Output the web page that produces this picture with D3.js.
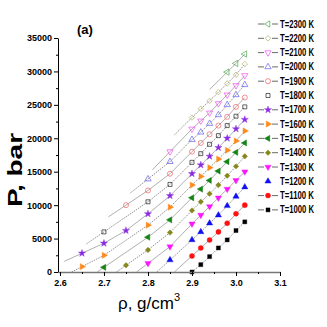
<!DOCTYPE html>
<html>
<head>
<meta charset="utf-8">
<script src="https://cdn.jsdelivr.net/npm/d3@7"></script>
<style>
  body { margin: 0; background: #fff; }
  svg { display: block; font-family: Arial, "Liberation Sans", sans-serif; }
</style>
</head>
<body>
<svg id="chart" width="327" height="327"></svg>
<script>
// Data (P in bar, rho in g/cm3)
var temps = [2300, 2200, 2100, 2000, 1900, 1800, 1700, 1600, 1500, 1400, 1300, 1200, 1100, 1000];

var rhoTail = [2.90, 2.92, 2.94, 2.96, 2.98, 3.00, 3.02];

var rho1000 = rhoTail;
var p1000 = [0, 1100, 2300, 3600, 4800, 6200, 7500];
var rho1100 = rhoTail;
var p1100 = [2400, 3600, 4800, 6000, 7300, 8700, 10000];
var rho1200 = [2.85].concat(rhoTail);
var p1200 = [1800, 4800, 6000, 7300, 8500, 9900, 11300, 12700];
var rho1300 = [2.80, 2.85].concat(rhoTail);
var p1300 = [1300, 3800, 7200, 8500, 9800, 11100, 12400, 13700, 15000];
var rho1400 = [2.75, 2.80, 2.85].concat(rhoTail);
var p1400 = [1000, 3300, 5900, 9200, 10500, 11700, 13000, 14400, 15800, 17300];
var rho1500 = [2.70, 2.80, 2.85].concat(rhoTail);
var p1500 = [700, 5200, 7800, 11100, 12400, 13700, 15100, 16500, 17900, 19300];
var rho1600 = [2.65, 2.70, 2.80, 2.85].concat(rhoTail);
var p1600 = [800, 2500, 7000, 9700, 13000, 14300, 15600, 16900, 18200, 19600, 21100];
var rho1700 = [2.65, 2.70, 2.75, 2.80, 2.85].concat(rhoTail);
var p1700 = [2800, 4300, 6200, 8700, 11400, 14700, 16000, 17300, 18600, 20000, 21400, 22800];
var rho1800 = [2.70, 2.80, 2.85].concat(rhoTail);
var p1800 = [6000, 10500, 13100, 16400, 17700, 19100, 20400, 21900, 23300, 24700];
var rho1900 = [2.75, 2.80, 2.85].concat(rhoTail);
var p1900 = [10000, 12200, 14700, 18000, 19300, 20600, 21900, 23200, 24700, 26100];
var rho2000 = [2.80, 2.85].concat(rhoTail);
var p2000 = [13900, 16500, 19800, 20900, 22200, 23500, 25000, 26500, 28000];
var rho2100 = [2.85].concat(rhoTail);
var p2100 = [18000, 21400, 22600, 23800, 25200, 26500, 27900, 29400];
var rho2200 = rhoTail;
var p2200 = [23100, 24400, 25600, 26900, 28200, 29500, 31100];
var rho2300 = [2.98, 3.00, 3.02];
var p2300 = [29900, 31200, 32600];

var yTicks = [0, 5000, 10000, 15000, 20000, 25000, 30000, 35000];
var xTicks = [2.6, 2.7, 2.8, 2.9, 3.0, 3.1];

// marker styles per temperature
var styles = {
  2300: { shape: "triL", color: "#4aa84a", filled: false },
  2200: { shape: "diamond", color: "#b8b36e", filled: false },
  2100: { shape: "triD", color: "#f050f0", filled: false },
  2000: { shape: "triU", color: "#6060f0", filled: false },
  1900: { shape: "circle", color: "#f06060", filled: false },
  1800: { shape: "square", color: "#222", filled: false },
  1700: { shape: "star", color: "#8a2be2", filled: true },
  1600: { shape: "triR", color: "#ff8a1c", filled: true },
  1500: { shape: "triL", color: "#148414", filled: true },
  1400: { shape: "diamond", color: "#86861a", filled: true },
  1300: { shape: "triD", color: "#ff14ff", filled: true },
  1200: { shape: "triU", color: "#1010f0", filled: true },
  1100: { shape: "circle", color: "#ff1010", filled: true },
  1000: { shape: "square", color: "#000", filled: true }
};

var seriesData = {
  1000: [rho1000, p1000], 1100: [rho1100, p1100], 1200: [rho1200, p1200],
  1300: [rho1300, p1300], 1400: [rho1400, p1400], 1500: [rho1500, p1500],
  1600: [rho1600, p1600], 1700: [rho1700, p1700], 1800: [rho1800, p1800],
  1900: [rho1900, p1900], 2000: [rho2000, p2000], 2100: [rho2100, p2100],
  2200: [rho2200, p2200], 2300: [rho2300, p2300]
};

var svg = d3.select("#chart");

var x = d3.scaleLinear().domain([2.5955, 3.1]).range([58, 280]);
var y = d3.scaleLinear().domain([0, 35000]).range([272, 38]);

svg.append("clipPath").attr("id", "plotclip")
  .append("rect").attr("x", 58).attr("y", 30).attr("width", 225).attr("height", 242);

function symbolPath(shape) {
  var s;
  if (shape === "circle") s = d3.symbol(d3.symbolCircle, 20);
  else if (shape === "square") s = d3.symbol(d3.symbolSquare, 16);
  else if (shape === "diamond") s = d3.symbol(d3.symbolSquare, 15);
  else if (shape === "star") s = d3.symbol(d3.symbolStar, 16);
  else s = d3.symbol(d3.symbolTriangle, 17);
  return s();
}
function symbolRotate(shape) {
  return { triD: 180, triL: -90, triR: 90, diamond: 45 }[shape] || 0;
}

// lines (extended a little toward lower density, stopping at P = 0)
var line = d3.line().x(function(d) { return x(d[0]); }).y(function(d) { return y(d[1]); });
var gLines = svg.append("g").attr("clip-path", "url(#plotclip)");

temps.slice().reverse().forEach(function(t, i) {
  var r = seriesData[t][0], p = seriesData[t][1];
  var pts = r.map(function(v, k) { return [v, p[k]]; });
  if (p[0] > 0) {
    var slope = (p[1] - p[0]) / (r[1] - r[0]);
    var dr = Math.min(0.04, p[0] / slope);
    pts.unshift([r[0] - dr, p[0] - slope * dr]);
  }
  gLines.append("path")
    .attr("d", line(pts))
    .attr("fill", "none")
    .attr("stroke", i % 2 === 0 ? "#666" : "#b0b0b0")
    .attr("stroke-width", i % 2 === 0 ? 0.7 : 1)
    .attr("stroke-dasharray", i % 2 === 0 ? "1.5,1" : null);
});

// markers
temps.forEach(function(t) {
  var st = styles[t];
  var r = seriesData[t][0], p = seriesData[t][1];
  svg.append("g").selectAll("path")
    .data(r.map(function(v, k) { return [v, p[k]]; }))
    .join("path")
    .attr("d", symbolPath(st.shape))
    .attr("transform", function(d) {
      return "translate(" + x(d[0]) + "," + y(d[1]) + ") rotate(" + symbolRotate(st.shape) + ")";
    })
    .attr("fill", st.filled ? st.color : "none")
    .attr("stroke", st.color)
    .attr("stroke-width", st.filled ? 0.4 : 0.7);
});

// axes
var yAxis = svg.append("g").attr("transform", "translate(58,0)")
  .call(d3.axisLeft(y).tickValues(yTicks).tickSize(4).tickSizeOuter(0).tickPadding(2).tickFormat(d3.format("d")));
svg.append("g").attr("transform", "translate(58,0)")
  .call(d3.axisLeft(y).tickValues(d3.range(2500, 35000, 5000)).tickSize(2).tickFormat(""))
  .select(".domain").remove();
yAxis.selectAll("text").attr("font-size", 9).attr("font-weight", "bold").attr("fill", "#000");

var xAxis = svg.append("g").attr("transform", "translate(0,272)")
  .call(d3.axisBottom(x).tickValues(xTicks).tickSize(4).tickSizeOuter(0).tickPadding(4).tickFormat(d3.format(".1f")));
svg.append("g").attr("transform", "translate(0,272)")
  .call(d3.axisBottom(x).tickValues([2.65, 2.75, 2.85, 2.95, 3.05]).tickSize(2).tickFormat(""))
  .select(".domain").remove();
xAxis.select(".domain").attr("stroke", "#777").attr("stroke-width", 1.6);
xAxis.selectAll("text").attr("font-size", 9).attr("font-weight", "bold").attr("fill", "#000");

// axis titles
svg.append("text")
  .attr("transform", "translate(22,170) rotate(-90)")
  .attr("text-anchor", "middle")
  .attr("font-size", 20).attr("font-weight", "bold")
  .attr("textLength", 74).attr("lengthAdjust", "spacingAndGlyphs")
  .text("P, bar");

var xt = svg.append("text").attr("x", 118).attr("y", 309).attr("font-size", 17);
xt.append("tspan").text("ρ, g/cm");
xt.append("tspan").attr("dy", -8).attr("font-size", 11).text("3");

svg.append("text").attr("x", 77).attr("y", 34)
  .attr("font-size", 13).attr("font-weight", "bold").text("(a)");

// legend
var leg = svg.append("g");
temps.forEach(function(t, i) {
  var st = styles[t];
  var ly = 24 + i * 14.3;
  var g = leg.append("g").attr("transform", "translate(0," + ly + ")");
  if (t !== 1800 && t !== 1200) {
    g.append("line").attr("x1", 258).attr("x2", 264).attr("y1", 0).attr("y2", 0).attr("stroke", "#444").attr("stroke-width", 0.8);
    g.append("line").attr("x1", 272).attr("x2", 278).attr("y1", 0).attr("y2", 0).attr("stroke", "#444").attr("stroke-width", 0.8);
  }
  g.append("path")
    .attr("d", symbolPath(st.shape))
    .attr("transform", "translate(268,0) rotate(" + symbolRotate(st.shape) + ")")
    .attr("fill", st.filled ? st.color : "none")
    .attr("stroke", st.color)
    .attr("stroke-width", st.filled ? 0.4 : 0.7);
  g.append("text").attr("x", 280).attr("y", 3.5)
    .attr("font-size", 10).attr("font-weight", "bold")
    .attr("textLength", 34).attr("lengthAdjust", "spacingAndGlyphs")
    .text("T=" + t + " K");
});
</script>
</body>
</html>
